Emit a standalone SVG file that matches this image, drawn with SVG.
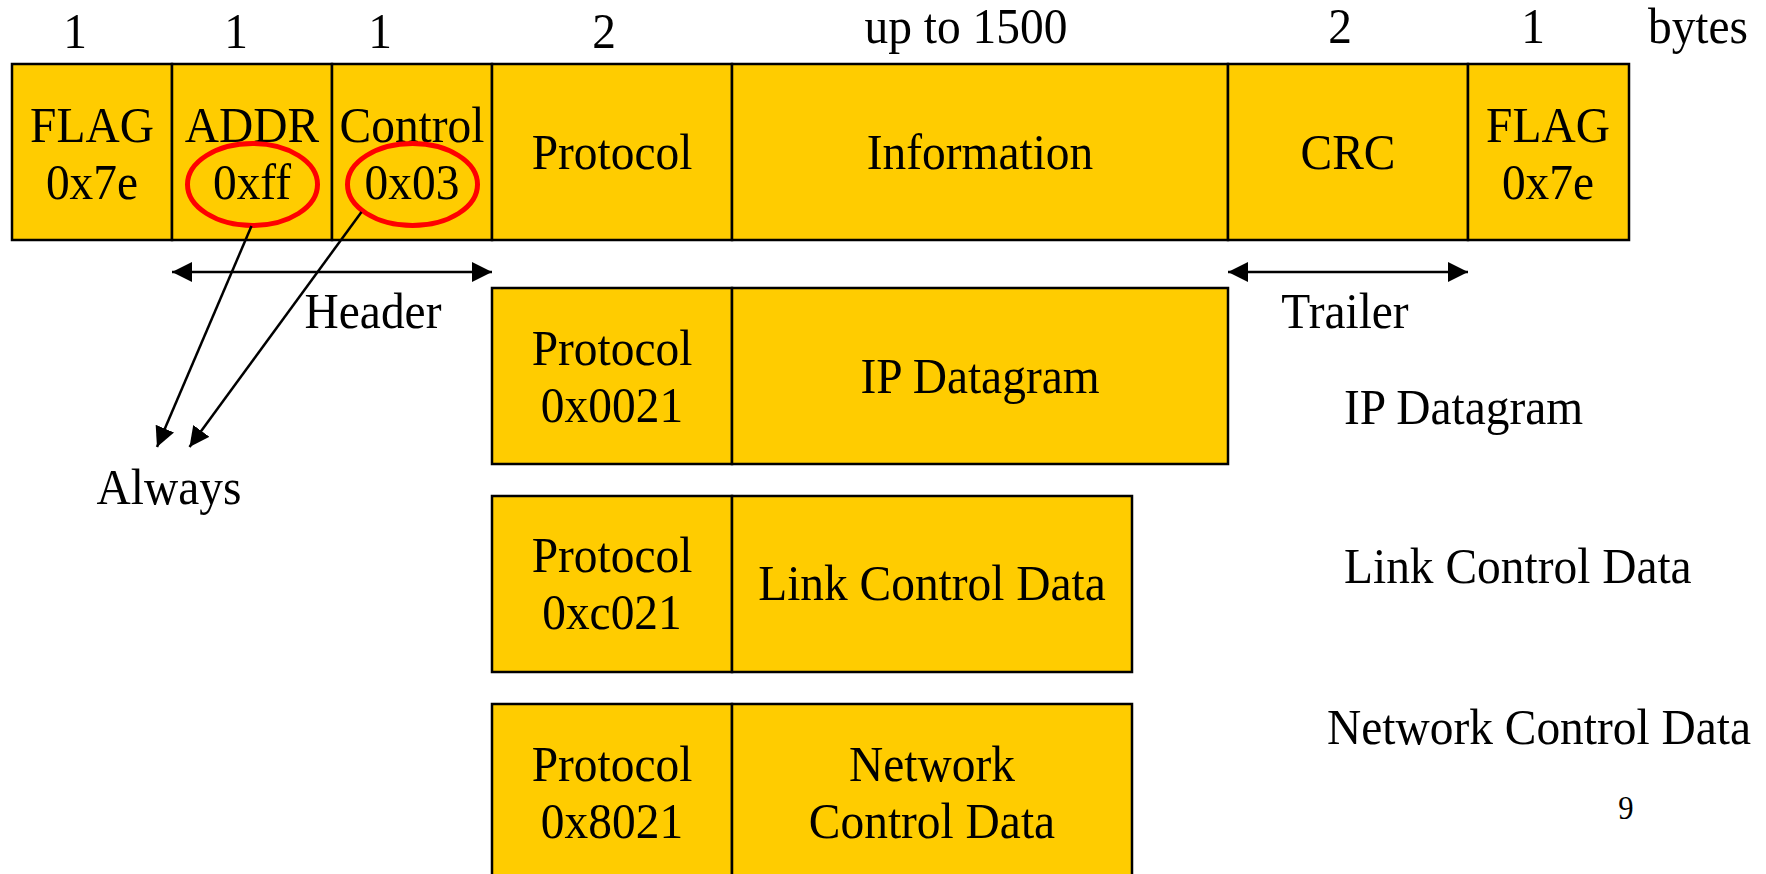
<svg xmlns="http://www.w3.org/2000/svg" width="1766" height="874" viewBox="0 0 1766 874">
  <style>
    .cell { fill: #FFCC00; stroke: #000; stroke-width: 2.5; }
    .t { font-family: "Liberation Serif", "Times New Roman", serif; font-size: 51px; fill: #000; text-anchor: middle;
         transform-box: fill-box; transform-origin: center; transform: scale(0.93, 1); }
    .l { text-anchor: start; transform-origin: left center; }
    .ring { fill: none; stroke: #FF0000; stroke-width: 5; }
    .wire { fill: none; stroke: #000; stroke-width: 2.5; }
  </style>
  <defs>
    <marker id="head" markerUnits="userSpaceOnUse" markerWidth="22" markerHeight="22" refX="20" refY="10" orient="auto-start-reverse" viewBox="0 0 22 22">
      <path d="M0,0 L20,10 L0,20 Z" fill="#000"/>
    </marker>
  </defs>
  <rect width="1766" height="874" fill="#fff"/>

  <!-- byte counts -->
  <g id="sizes">
    <text class="t" x="75" y="48">1</text>
    <text class="t" x="236" y="48">1</text>
    <text class="t" x="380" y="48">1</text>
    <text class="t" x="604" y="48">2</text>
    <text class="t" x="966" y="43">up to 1500</text>
    <text class="t" x="1340" y="43">2</text>
    <text class="t" x="1533" y="43">1</text>
    <text class="t" x="1698" y="43">bytes</text>
  </g>

  <!-- PPP frame -->
  <g id="flag-open">
    <rect class="cell" x="12" y="64" width="160" height="176"/>
    <text class="t" x="92" y="142">FLAG</text>
    <text class="t" x="92" y="199">0x7e</text>
  </g>
  <g id="addr">
    <rect class="cell" x="172" y="64" width="160" height="176"/>
    <text class="t" x="252" y="142">ADDR</text>
    <text class="t" x="252" y="199">0xff</text>
    <ellipse class="ring" cx="252.5" cy="184.5" rx="65" ry="41"/>
  </g>
  <g id="control">
    <rect class="cell" x="332" y="64" width="160" height="176"/>
    <text class="t" x="412" y="142">Control</text>
    <text class="t" x="412" y="199">0x03</text>
    <ellipse class="ring" cx="412.5" cy="184.5" rx="65" ry="41"/>
  </g>
  <g id="protocol">
    <rect class="cell" x="492" y="64" width="240" height="176"/>
    <text class="t" x="612" y="169">Protocol</text>
  </g>
  <g id="information">
    <rect class="cell" x="732" y="64" width="496" height="176"/>
    <text class="t" x="980" y="169">Information</text>
  </g>
  <g id="crc">
    <rect class="cell" x="1228" y="64" width="240" height="176"/>
    <text class="t" x="1348" y="169">CRC</text>
  </g>
  <g id="flag-close">
    <rect class="cell" x="1468" y="64" width="161" height="176"/>
    <text class="t" x="1548" y="142">FLAG</text>
    <text class="t" x="1548" y="199">0x7e</text>
  </g>

  <!-- span labels -->
  <g id="header-label">
    <text class="t" x="373" y="328">Header</text>
  </g>
  <g id="trailer-label">
    <text class="t" x="1345" y="328">Trailer</text>
  </g>
  <g id="always-label">
    <text class="t" x="169" y="504">Always</text>
  </g>

  <!-- payload variants -->
  <g id="ip-frame">
    <rect class="cell" x="492" y="288" width="240" height="176"/>
    <rect class="cell" x="732" y="288" width="496" height="176"/>
    <text class="t" x="612" y="365">Protocol</text>
    <text class="t" x="612" y="422">0x0021</text>
    <text class="t" x="980" y="393">IP Datagram</text>
  </g>
  <g id="lcp-frame">
    <rect class="cell" x="492" y="496" width="240" height="176"/>
    <rect class="cell" x="732" y="496" width="400" height="176"/>
    <text class="t" x="612" y="572">Protocol</text>
    <text class="t" x="612" y="629">0xc021</text>
    <text class="t" x="932" y="600">Link Control Data</text>
  </g>
  <g id="ncp-frame">
    <rect class="cell" x="492" y="704" width="240" height="190"/>
    <rect class="cell" x="732" y="704" width="400" height="190"/>
    <text class="t" x="612" y="781">Protocol</text>
    <text class="t" x="612" y="838">0x8021</text>
    <text class="t" x="932" y="781">Network</text>
    <text class="t" x="932" y="838">Control Data</text>
  </g>

  <!-- side captions -->
  <g id="captions">
    <text class="t l" x="1344" y="424">IP Datagram</text>
    <text class="t l" x="1344" y="583">Link Control Data</text>
    <text class="t l" x="1327" y="744">Network Control Data</text>
  </g>
  <text id="page" class="t" x="1626" y="819" style="font-size:33px">9</text>

  <!-- connectors -->
  <g id="connectors">
    <line class="wire" x1="172" y1="272" x2="492" y2="272" marker-start="url(#head)" marker-end="url(#head)"/>
    <line class="wire" x1="1228" y1="272" x2="1468" y2="272" marker-start="url(#head)" marker-end="url(#head)"/>
    <line class="wire" x1="251.5" y1="226" x2="157" y2="447" marker-end="url(#head)"/>
    <line class="wire" x1="361.5" y1="212" x2="189.5" y2="447" marker-end="url(#head)"/>
  </g>
</svg>
